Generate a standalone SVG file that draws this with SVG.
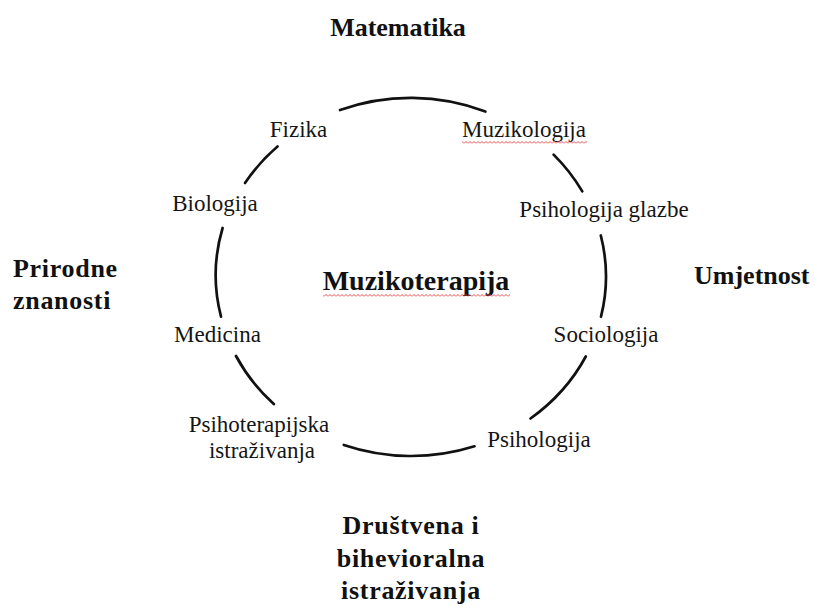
<svg xmlns="http://www.w3.org/2000/svg" width="815" height="608" viewBox="0 0 815 608">
  <style>
    .lbl { font-family: "Liberation Serif", "Times New Roman", serif; font-size: 23px; fill: #151515; text-anchor: middle; }
    .head { font-family: "Liberation Serif", "Times New Roman", serif; font-size: 26px; font-weight: bold; fill: #111; }
    .wide { letter-spacing: 0.7px; }
    .center { font-family: "Liberation Serif", "Times New Roman", serif; font-size: 28px; font-weight: bold; fill: #111; text-anchor: middle; }
    .arc { fill: none; stroke: #111; stroke-width: 2.7; stroke-linecap: round; }
  </style>
  <defs>
    <pattern id="squiggle" width="4" height="3" patternUnits="userSpaceOnUse">
      <path d="M0,2.5 L2,0.5 L4,2.5" fill="none" stroke="#e03a3a" stroke-width="0.9"/>
    </pattern>
  </defs>
  <rect width="815" height="608" fill="#ffffff"/>

  <g id="connectors">
    <path class="arc" d="M340,110 A195,179 0 0 1 485.4,111.5"/>
    <path class="arc" d="M245,183 A195,179 0 0 1 277.5,146.5"/>
    <path class="arc" d="M553.6,154.6 A195,179 0 0 1 582.3,191.4"/>
    <path class="arc" d="M221,316.6 A195,179 0 0 1 222.6,228"/>
    <path class="arc" d="M600.8,235.5 A195,179 0 0 1 601,316.6"/>
    <path class="arc" d="M273.8,404 A195,179 0 0 1 236,356"/>
    <path class="arc" d="M585.8,356.5 A195,179 0 0 1 530.5,418.5"/>
    <path class="arc" d="M474.5,446.3 A195,179 0 0 1 343.8,445"/>
  </g>

  <g id="matematika"><text class="head" x="398" y="36" text-anchor="middle">Matematika</text></g>
  <g id="prirodne-znanosti">
    <text class="head wide" x="13" y="277">Prirodne</text>
    <text class="head wide" x="13" y="309">znanosti</text>
  </g>
  <g id="umjetnost"><text class="head" x="694" y="284">Umjetnost</text></g>
  <g id="drustvena">
    <text class="head wide" x="411" y="534" text-anchor="middle">Društvena i</text>
    <text class="head wide" x="411" y="567" text-anchor="middle">bihevioralna</text>
    <text class="head wide" x="411" y="599" text-anchor="middle">istraživanja</text>
  </g>

  <g id="muzikoterapija">
    <text class="center" x="416" y="290">Muzikoterapija</text>
    <rect x="323" y="294" width="187" height="3" fill="url(#squiggle)"/>
  </g>

  <g id="fizika"><text class="lbl" x="298.5" y="137">Fizika</text></g>
  <g id="muzikologija">
    <text class="lbl" x="524" y="137">Muzikologija</text>
    <rect x="462" y="141" width="125" height="3" fill="url(#squiggle)"/>
  </g>
  <g id="biologija"><text class="lbl" x="215" y="211">Biologija</text></g>
  <g id="psihologija-glazbe"><text class="lbl" x="604" y="217">Psihologija glazbe</text></g>
  <g id="medicina"><text class="lbl" x="217.5" y="342">Medicina</text></g>
  <g id="sociologija"><text class="lbl" x="606" y="342">Sociologija</text></g>
  <g id="psihoterapijska">
    <text class="lbl" x="259" y="432">Psihoterapijska</text>
    <text class="lbl" x="262" y="458">istraživanja</text>
  </g>
  <g id="psihologija"><text class="lbl" x="539" y="447">Psihologija</text></g>
</svg>
